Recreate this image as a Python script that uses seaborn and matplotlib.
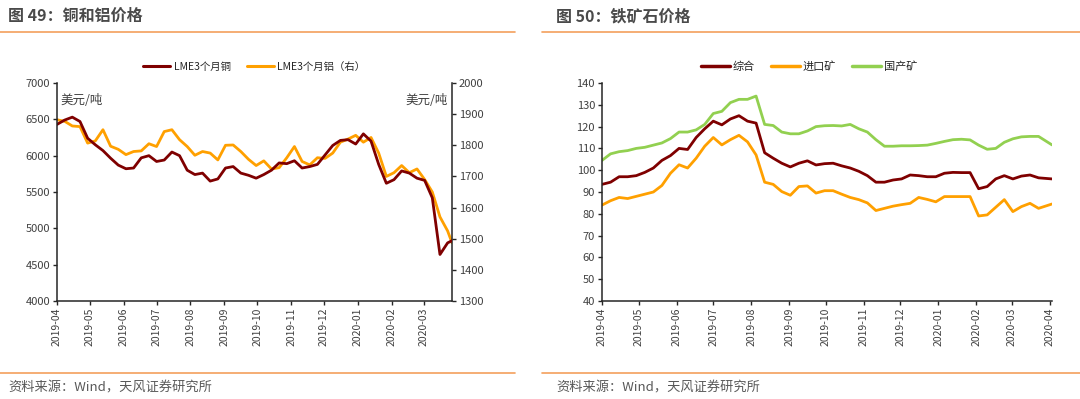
import matplotlib
matplotlib.use("Agg")
import matplotlib.pyplot as plt
import matplotlib.dates as mdates
from matplotlib.lines import Line2D
import seaborn as sns
import pandas as pd

# ---- 图49 铜和铝价格 (weekly readings) ----
cu_dates = pd.date_range("2019-04-01", periods=52, freq="7D").append(pd.DatetimeIndex(["2020-03-27"]))
copper = [6430, 6490, 6530, 6470, 6240, 6150, 6070, 5965, 5870, 5820,
          5830, 5970, 6000, 5920, 5940, 6050, 6000, 5800, 5740, 5760,
          5650, 5680, 5830, 5850, 5760, 5730, 5690, 5740, 5800, 5900,
          5890, 5930, 5830, 5850, 5880, 6010, 6140, 6210, 6220, 6160,
          6300, 6200, 5880, 5620, 5670, 5790, 5760, 5690, 5660, 5420,
          4640, 4800, 4830]
aluminum = [1882, 1877, 1862, 1860, 1807, 1814, 1850, 1797, 1787, 1770,
            1780, 1782, 1805, 1796, 1844, 1850, 1818, 1796, 1768, 1780,
            1775, 1753, 1800, 1801, 1780, 1755, 1735, 1750, 1724, 1728,
            1760, 1796, 1748, 1737, 1760, 1758, 1775, 1810, 1820, 1832,
            1810, 1825, 1775, 1700, 1712, 1735, 1712, 1724, 1690, 1650,
            1570, 1525, 1487]

# ---- 图50 铁矿石价格 ----
ore_dates = pd.date_range("2019-04-01", periods=52, freq="7D").append(pd.DatetimeIndex(["2020-04-03"]))
composite = [93.5, 94.5, 97, 97, 97.5, 99, 101, 104.5, 106.7, 110,
             109.5, 115, 119, 122.5, 120.8, 123.5, 125, 122.5, 121.6, 108,
             105.5, 103.2, 101.5, 103.2, 104.3, 102.4, 103, 103.2, 102, 101,
             99.5, 97.5, 94.5, 94.5, 95.5, 96, 97.8, 97.5, 97, 97,
             98.6, 99, 98.9, 98.9, 91.5, 92.5, 96, 97.5, 96, 97.3,
             97.8, 96.5, 96]
imported = [84, 86, 87.5, 87, 88, 89, 90, 93, 98.6, 102.5,
            101, 105.5, 111, 115, 111.6, 114, 116, 113, 107, 94.5,
            93.5, 90.2, 88.5, 92.5, 92.8, 89.5, 90.6, 90.6, 89, 87.5,
            86.5, 85, 81.5, 82.5, 83.5, 84.2, 84.8, 87.5, 86.6, 85.5,
            87.9, 87.9, 87.9, 87.9, 79, 79.5, 83, 86.5, 81, 83.3,
            84.8, 82.5, 84.5]
domestic = [104.5, 107.5, 108.5, 109, 110, 110.5, 111.5, 112.5, 114.5, 117.5,
            117.5, 118.5, 121, 126, 127, 131, 132.5, 132.5, 134, 121,
            120.5, 117.5, 116.7, 116.7, 118, 120, 120.4, 120.5, 120.3, 121,
            119, 117.5, 114, 111, 111, 111.2, 111.2, 111.3, 111.5, 112.3,
            113.2, 114, 114.2, 113.9, 111.5, 109.6, 110, 112.8, 114.4, 115.3,
            115.5, 115.5, 111.6]

MAROON = "#7f0000"
ORANGE = "#ffa000"
GREEN = "#92d050"
TXT = "#404040"

sns.set_style("ticks")
plt.rcParams["font.family"] = ["Noto Sans CJK SC", "DejaVu Sans"]
plt.rcParams["axes.edgecolor"] = "#262626"
plt.rcParams["xtick.color"] = "#262626"
plt.rcParams["ytick.color"] = "#262626"
plt.rcParams["xtick.labelcolor"] = TXT
plt.rcParams["ytick.labelcolor"] = TXT

fig = plt.figure(figsize=(10.8, 3.99), dpi=100)
W, H = 1080, 399


def box(x0, y0, x1, y1):
    return [x0 / W, 1 - y1 / H, (x1 - x0) / W, (y1 - y0) / H]


def style_axis(ax, months):
    ax.set_xticks(months)
    ax.xaxis.set_major_formatter(mdates.DateFormatter("%Y-%m"))
    ax.tick_params(axis="x", rotation=90, labelsize=7.5, length=3, width=1, pad=2)
    ax.tick_params(axis="y", labelsize=8, length=3, width=1, pad=2)
    ax.set_xlabel("")
    ax.set_ylabel("")
    for s in ["left", "bottom", "right"]:
        ax.spines[s].set_linewidth(1.1)


# left chart
ax1 = fig.add_axes(box(57, 83, 452, 301))
ax2 = ax1.twinx()
sns.lineplot(x=cu_dates, y=copper, ax=ax1, color=MAROON, lw=2)
sns.lineplot(x=cu_dates, y=aluminum, ax=ax2, color=ORANGE, lw=2)
ax1.set_zorder(ax2.get_zorder() + 1)
ax1.patch.set_visible(False)
ax1.set_ylim(4000, 7000)
ax1.set_yticks(range(4000, 7001, 500))
ax2.set_ylim(1300, 2000)
ax2.set_yticks(range(1300, 2001, 100))
ax1.set_xlim(pd.Timestamp("2019-04-01"), pd.Timestamp("2020-03-27"))
style_axis(ax1, pd.date_range("2019-04-01", "2020-03-01", freq="MS"))
ax2.tick_params(axis="y", labelsize=8, length=3, width=1, pad=2)
ax2.set_ylabel("")
for a in (ax1, ax2):
    a.spines["top"].set_visible(False)
ax2.spines["left"].set_visible(False)
ax2.spines["bottom"].set_visible(False)
ax1.spines["right"].set_visible(False)
ax2.spines["right"].set_linewidth(1.1)
ax1.text(0.01, 0.95, "美元/吨", transform=ax1.transAxes, fontsize=9, color=TXT, va="top")
ax1.text(0.99, 0.95, "美元/吨", transform=ax1.transAxes, fontsize=9, color=TXT, va="top", ha="right")
h1 = [Line2D([], [], color=MAROON, lw=2.2), Line2D([], [], color=ORANGE, lw=2.2)]
ax1.legend(h1, ["LME3个月铜", "LME3个月铝（右）"], loc="center", bbox_to_anchor=(0.5, 1.075),
           ncol=2, frameon=False, fontsize=7.5, handlelength=2.6, handletextpad=0.3, columnspacing=1.6)

# right chart
ax3 = fig.add_axes(box(602, 83, 1052, 301))
sns.lineplot(x=ore_dates, y=composite, ax=ax3, color=MAROON, lw=2)
sns.lineplot(x=ore_dates, y=imported, ax=ax3, color=ORANGE, lw=2)
sns.lineplot(x=ore_dates, y=domestic, ax=ax3, color=GREEN, lw=2)
ax3.set_ylim(40, 140)
ax3.set_yticks(range(40, 141, 10))
ax3.set_xlim(pd.Timestamp("2019-04-01"), pd.Timestamp("2020-04-03"))
style_axis(ax3, pd.date_range("2019-04-01", "2020-04-01", freq="MS"))
ax3.spines["top"].set_visible(False)
ax3.spines["right"].set_visible(False)
h3 = [Line2D([], [], color=c, lw=2.5) for c in (MAROON, ORANGE, GREEN)]
ax3.legend(h3, ["综合", "进口矿", "国产矿"], loc="center", bbox_to_anchor=(0.46, 1.075),
           ncol=3, frameon=False, fontsize=8, handlelength=2.6, handletextpad=0.3, columnspacing=1.4)

# titles, rules, sources
LINE = "#f4a05c"
for x0, x1, title in [(0, 515, "图 49：铜和铝价格"), (542, 1080, "图 50：铁矿石价格")]:
    fig.text((x0 + 8 + (6 if x0 else 0)) / W, 1 - 16 / H, title, fontsize=11.5, fontweight="bold",
             color="#4a4a4a", va="center")
    fig.add_artist(Line2D([x0 / W, x1 / W], [1 - 32 / H] * 2, color=LINE, lw=1.2))
    fig.add_artist(Line2D([x0 / W, x1 / W], [1 - 373 / H] * 2, color=LINE, lw=1.2))
    fig.text((x0 + 8 + (6 if x0 else 0)) / W, 1 - 388 / H, "资料来源：Wind，天风证券研究所",
             fontsize=9.5, color="#595959", va="center")

fig.savefig("out.png", dpi=100, facecolor="white")
